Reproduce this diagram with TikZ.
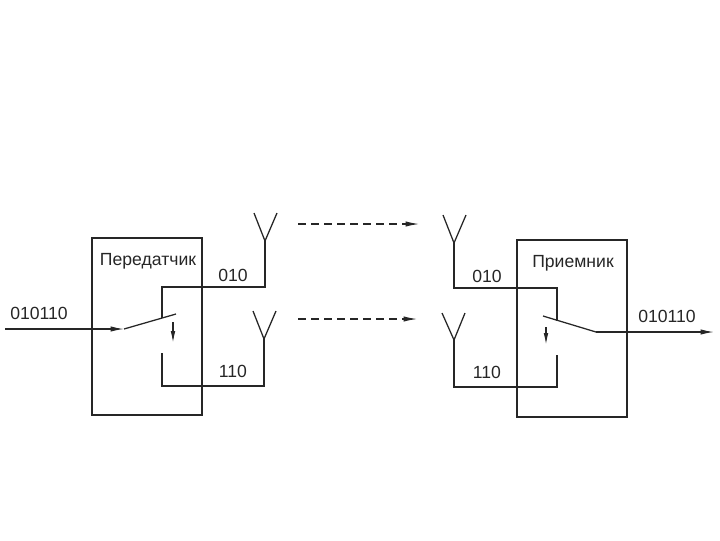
\documentclass[tikz,border=0pt]{standalone}
\usepackage{fontspec}
\setmainfont{Liberation Sans}
\usetikzlibrary{arrows.meta}
\tikzset{
  wire/.style={line width=0.95pt,black!85},
  box/.style={line width=0.85pt,black!85},
  signal/.style={wire,-{Latex[length=10pt,width=4pt]}},
  flip/.style={wire,-{Latex[length=9pt,width=3.5pt]}},
  link/.style={wire,line width=0.8pt,dash pattern=on 6pt off 3.75pt,-{Latex[length=10pt,width=4pt]}},
  lbl/.style={inner sep=0pt,text=black!85,font=\fontsize{13.2pt}{15pt}\selectfont}
}
\begin{document}
\begin{tikzpicture}[x=0.75pt,y=-0.75pt]
\useasboundingbox (0,0) rectangle (720,540);
% transmitter
\draw[box] (92,238) rectangle (202,415);
\node[lbl] (txname) at (148,261) {Передатчик};
\coordinate (txin) at (5,329);
\coordinate (txarm) at (124,329);
\coordinate (txtip) at (176,314);
\coordinate (txhi) at (162,287);
\coordinate (txlo) at (162,353);
\coordinate (ant1) at (265,241);
\coordinate (ant2) at (264,339);
\draw[signal] (txin) -- (txarm);
\draw[wire] (txarm) -- (txtip);
\draw[wire] (ant1) |- (txhi) -- (162,318);
\draw[wire] (ant2) |- (162,386) -- (txlo);
\draw[flip] (173,322) -- (173,343);
\draw[wire] (ant1) -- (254,213);
\draw[wire] (ant1) -- (277,213);
\draw[wire] (ant2) -- (253,311);
\draw[wire] (ant2) -- (276,311);
\node[lbl] (txa) at (233,275) {010};
\node[lbl] (txb) at (233,371) {110};
\node[lbl] (txdata) at (39,313) {010110};
% links
\coordinate (la) at (298,224);
\coordinate (lb) at (419,224);
\coordinate (lc) at (298,319);
\coordinate (ld) at (417,319);
\draw[link] (la) -- (lb);
\draw[link] (lc) -- (ld);
% receiver
\draw[box] (517,240) rectangle (627,417);
\node[lbl] (rxname) at (573,263) {Приемник};
\coordinate (ant3) at (454,243);
\coordinate (ant4) at (454,340);
\coordinate (rxarm) at (596,332);
\coordinate (rxtip) at (543,316);
\coordinate (rxout) at (714,332);
\draw[wire] (ant3) |- (557,288) -- (557,321);
\draw[wire] (ant4) |- (557,387) -- (557,355);
\draw[wire] (rxtip) -- (rxarm);
\draw[signal] (rxarm) -- (rxout);
\draw[flip] (546,327) -- (546,345);
\draw[wire] (ant3) -- (443,215);
\draw[wire] (ant3) -- (466,215);
\draw[wire] (ant4) -- (442,313);
\draw[wire] (ant4) -- (465,313);
\node[lbl] (rxa) at (487,276) {010};
\node[lbl] (rxb) at (487,372) {110};
\node[lbl] (rxdata) at (667,316) {010110};
\end{tikzpicture}
\end{document}
